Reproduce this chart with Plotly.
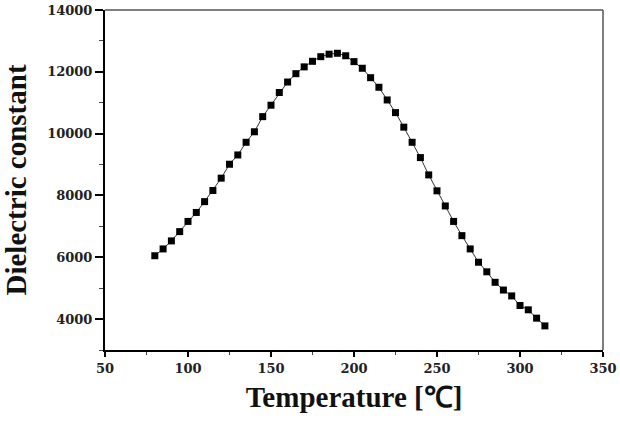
import plotly.graph_objects as go

temperature = [80, 85, 90, 95, 100, 105, 110, 115, 120, 125, 130, 135, 140, 145,
               150, 155, 160, 165, 170, 175, 180, 185, 190, 195, 200, 205, 210,
               215, 220, 225, 230, 235, 240, 245, 250, 255, 260, 265, 270, 275,
               280, 285, 290, 295, 300, 305, 310, 315]
dielectric = [6050, 6270, 6530, 6830, 7160, 7450, 7800, 8160, 8560, 9010, 9310,
              9720, 10060, 10550, 10920, 11330, 11670, 11940, 12160, 12340, 12490,
              12570, 12600, 12520, 12330, 12115, 11810, 11500, 11090, 10680, 10210,
              9720, 9225, 8665, 8150, 7660, 7160, 6700, 6270, 5840, 5530, 5190,
              4940, 4750, 4440, 4300, 4030, 3780]

x_ticks = [50, 100, 150, 200, 250, 300, 350]
y_ticks = [4000, 6000, 8000, 10000, 12000, 14000]

fig = go.Figure()
fig.add_trace(go.Scatter(
    x=temperature, y=dielectric, mode="lines+markers",
    line=dict(color="#333333", width=1),
    marker=dict(symbol="square", size=7, color="black"),
    showlegend=False,
))

tickfont = dict(family="DejaVu Serif", size=13, color="#222222")

fig.update_layout(
    width=620, height=421,
    margin=dict(l=105, r=17, t=10, b=71),
    paper_bgcolor="white", plot_bgcolor="white",
    xaxis=dict(
        range=[50, 350], tickvals=x_ticks, ticktext=[str(v) for v in x_ticks],
        showgrid=False, zeroline=False,
        showline=True, linecolor="black", linewidth=2,
        ticks="outside", ticklen=5, tickwidth=1.5, tickcolor="black",
        minor=dict(dtick=25, tick0=50, ticks="outside", ticklen=3, tickcolor="#444444", tickwidth=1),
        tickfont=dict(tickfont, weight="bold"),
        title=dict(text="Temperature [℃]", standoff=12,
                   font=dict(family="Liberation Serif", size=29, color="#111111", weight="bold")),
        automargin=False,
    ),
    yaxis=dict(
        range=[3000, 14000], tickvals=y_ticks, ticktext=[str(v) for v in y_ticks],
        showgrid=False, zeroline=False,
        showline=True, linecolor="black", linewidth=2,
        ticks="outside", ticklen=8, tickwidth=1.5, tickcolor="black",
        minor=dict(dtick=1000, tick0=0, ticks="outside", ticklen=4, tickcolor="#444444", tickwidth=1),
        tickfont=dict(tickfont, weight="bold"),
        title=dict(text="Dielectric constant", standoff=13,
                   font=dict(family="Liberation Serif", size=29, color="#111111", weight="bold")),
        automargin=False,
    ),
    shapes=[
        dict(type="line", xref="paper", yref="paper", x0=0, x1=1, y0=1, y1=1,
             line=dict(color="#555555", width=1.5)),
        dict(type="line", xref="paper", yref="paper", x0=1, x1=1, y0=0, y1=1,
             line=dict(color="#555555", width=1.5)),
    ],
)

fig.write_html("out.html")
